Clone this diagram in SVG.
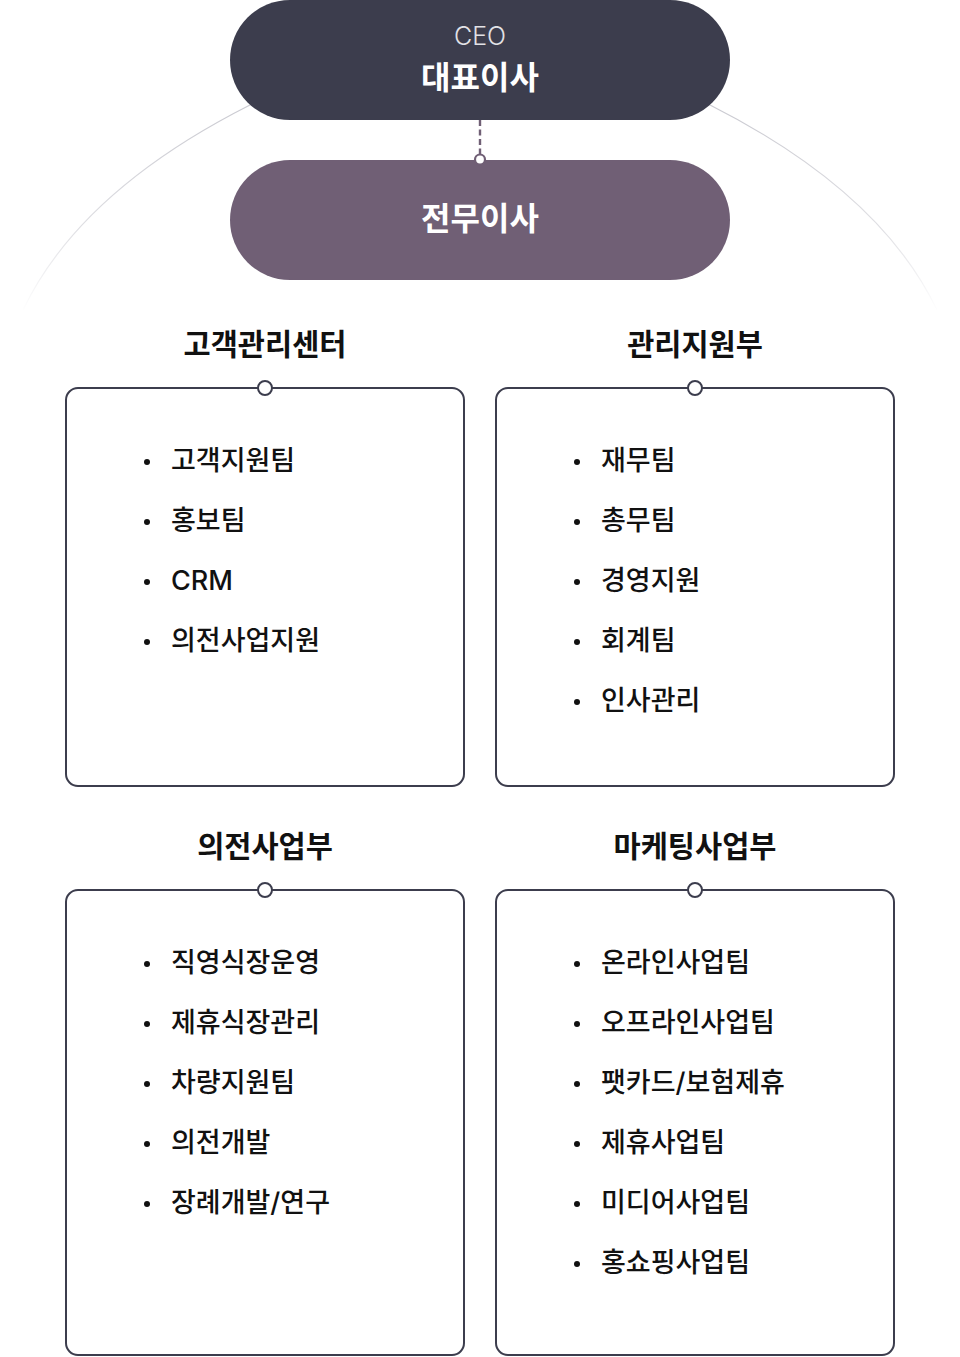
<svg xmlns="http://www.w3.org/2000/svg" width="960" height="1357" viewBox="0 0 960 1357">
<style>
.kr{font-family:Inter,"Noto Sans CJK KR","Noto Sans",sans-serif}
.pilltxt{font-size:32px;font-weight:700;fill:#ffffff}
.ceo{font-family:Inter,"Liberation Sans",sans-serif;font-size:25px;font-weight:300;fill:#e2e2e6}
.title{font-size:29.5px;font-weight:700;fill:#111111}
.item{font-size:27px;font-weight:500;fill:#111111}
.box{fill:#ffffff;stroke:#3c3d4d;stroke-width:2}
.port{fill:#ffffff;stroke:#3c3d4d;stroke-width:2}
.dot{fill:#111111}
</style>
<defs>
<linearGradient id="fadeL" gradientUnits="userSpaceOnUse" x1="0" y1="100" x2="0" y2="312">
<stop offset="0" stop-color="#c9c9d0" stop-opacity="1"/>
<stop offset="0.6" stop-color="#c9c9d0" stop-opacity="0.6"/>
<stop offset="1" stop-color="#c9c9d0" stop-opacity="0"/>
</linearGradient>
</defs>
<rect width="960" height="1357" fill="#ffffff"/>
<g id="connectors">
<path d="M 262 99 L 250 105 Q 80 191 23 310" fill="none" stroke="url(#fadeL)" stroke-width="1.2"/>
<path d="M 698 99 L 710 105 Q 880 191 937 310" fill="none" stroke="url(#fadeL)" stroke-width="1.2"/>
<line x1="480" y1="120" x2="480" y2="154" stroke="#705f75" stroke-width="2.4" stroke-dasharray="6 3.5"/>
</g>
<g id="ceo">
<rect x="230" y="0" width="500" height="120" rx="60" fill="#3c3d4d"/>
<text x="480" y="45" text-anchor="middle" class="ceo">CEO</text>
<text x="480" y="89" text-anchor="middle" class="kr pilltxt">대표이사</text>
</g>
<g id="director">
<rect x="230" y="160" width="500" height="120" rx="60" fill="#705f75"/>
<text x="480" y="230" text-anchor="middle" class="kr pilltxt">전무이사</text>
<circle cx="480" cy="159.5" r="5" fill="#ffffff" stroke="#705f75" stroke-width="2.2"/>
</g>
<g id="customer-center">
<text x="265" y="355" text-anchor="middle" class="kr title">고객관리센터</text>
<rect x="66" y="388" width="398" height="398" rx="12" class="box"/>
<circle cx="265" cy="388" r="7" class="port"/>
<circle cx="147" cy="462" r="3" class="dot"/><text x="171" y="470" class="kr item">고객지원팀</text>
<circle cx="147" cy="522" r="3" class="dot"/><text x="171" y="530" class="kr item">홍보팀</text>
<circle cx="147" cy="582" r="3" class="dot"/><text x="171" y="590" class="kr item">CRM</text>
<circle cx="147" cy="642" r="3" class="dot"/><text x="171" y="650" class="kr item">의전사업지원</text>
</g>
<g id="admin-support">
<text x="695" y="355" text-anchor="middle" class="kr title">관리지원부</text>
<rect x="496" y="388" width="398" height="398" rx="12" class="box"/>
<circle cx="695" cy="388" r="7" class="port"/>
<circle cx="577" cy="462" r="3" class="dot"/><text x="601" y="470" class="kr item">재무팀</text>
<circle cx="577" cy="522" r="3" class="dot"/><text x="601" y="530" class="kr item">총무팀</text>
<circle cx="577" cy="582" r="3" class="dot"/><text x="601" y="590" class="kr item">경영지원</text>
<circle cx="577" cy="642" r="3" class="dot"/><text x="601" y="650" class="kr item">회계팀</text>
<circle cx="577" cy="702" r="3" class="dot"/><text x="601" y="710" class="kr item">인사관리</text>
</g>
<g id="ceremony-business">
<text x="265" y="857" text-anchor="middle" class="kr title">의전사업부</text>
<rect x="66" y="890" width="398" height="465" rx="12" class="box"/>
<circle cx="265" cy="890" r="7" class="port"/>
<circle cx="147" cy="964" r="3" class="dot"/><text x="171" y="972" class="kr item">직영식장운영</text>
<circle cx="147" cy="1024" r="3" class="dot"/><text x="171" y="1032" class="kr item">제휴식장관리</text>
<circle cx="147" cy="1084" r="3" class="dot"/><text x="171" y="1092" class="kr item">차량지원팀</text>
<circle cx="147" cy="1144" r="3" class="dot"/><text x="171" y="1152" class="kr item">의전개발</text>
<circle cx="147" cy="1204" r="3" class="dot"/><text x="171" y="1212" class="kr item">장례개발/연구</text>
</g>
<g id="marketing-business">
<text x="695" y="857" text-anchor="middle" class="kr title">마케팅사업부</text>
<rect x="496" y="890" width="398" height="465" rx="12" class="box"/>
<circle cx="695" cy="890" r="7" class="port"/>
<circle cx="577" cy="964" r="3" class="dot"/><text x="601" y="972" class="kr item">온라인사업팀</text>
<circle cx="577" cy="1024" r="3" class="dot"/><text x="601" y="1032" class="kr item">오프라인사업팀</text>
<circle cx="577" cy="1084" r="3" class="dot"/><text x="601" y="1092" class="kr item">팻카드/보험제휴</text>
<circle cx="577" cy="1144" r="3" class="dot"/><text x="601" y="1152" class="kr item">제휴사업팀</text>
<circle cx="577" cy="1204" r="3" class="dot"/><text x="601" y="1212" class="kr item">미디어사업팀</text>
<circle cx="577" cy="1264" r="3" class="dot"/><text x="601" y="1272" class="kr item">홍쇼핑사업팀</text>
</g>
</svg>
